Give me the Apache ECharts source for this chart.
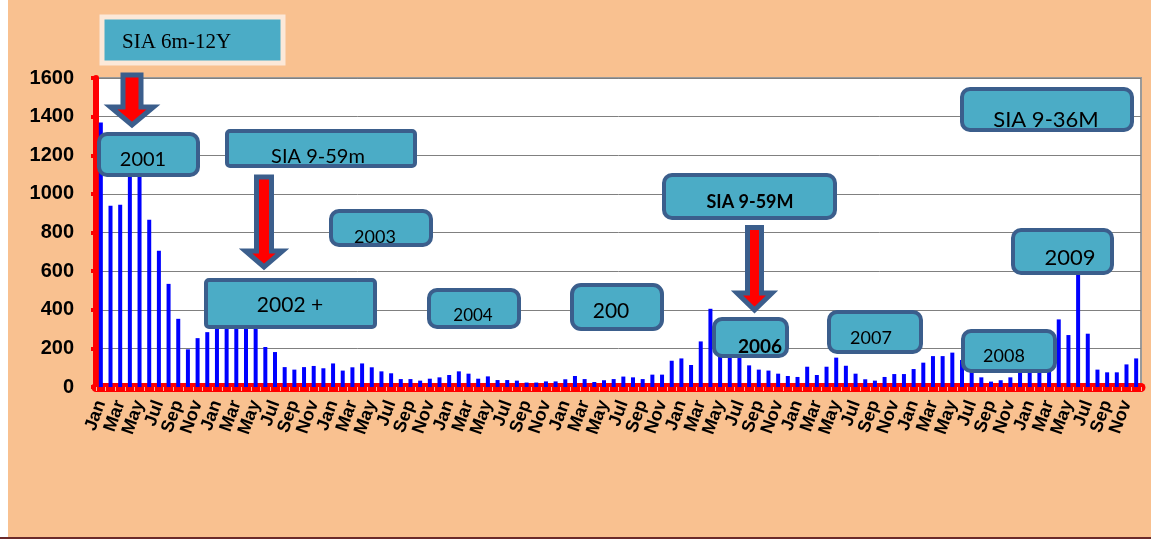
<!DOCTYPE html>
<html>
<head>
<meta charset="utf-8">
<script src="https://cdn.jsdelivr.net/npm/echarts@6/dist/echarts.min.js"></script>
<style>
html,body{margin:0;padding:0;background:#ffffff;}
#chart{width:1151px;height:539px;}
</style>
</head>
<body>
<div id="chart"></div>
<script>
// ---- data (monthly counts, Jan 2001 – Dec 2009) ----
var months = ['Jan','Feb','Mar','Apr','May','Jun','Jul','Aug','Sep','Oct','Nov','Dec'];
var years = ['2001','2002','2003','2004','2005','2006','2007','2008','2009'];
var v2001 = [1370, 939, 944, 1180, 1160, 866, 706, 534, 353, 195, 253, 284];
var v2002 = [320, 340, 350, 330, 310, 207, 181, 103, 90, 103, 109, 97];
var v2003 = [122, 85, 102, 122, 102, 81, 71, 41, 41, 33, 43, 50];
var v2004 = [62, 81, 69, 43, 55, 36, 36, 33, 23, 23, 29, 29];
var v2005 = [40, 57, 41, 26, 35, 41, 54, 50, 41, 64, 64, 136];
var v2006 = [148, 114, 236, 405, 180, 160, 150, 112, 90, 85, 69, 57];
var v2007 = [52, 105, 62, 105, 152, 110, 69, 40, 33, 52, 67, 67];
var v2008 = [93, 126, 160, 160, 178, 140, 100, 50, 28, 35, 50, 85];
var v2009 = [100, 110, 95, 350, 269, 590, 276, 90, 76, 76, 117, 148];
var yTicks = [0, 200, 400, 600, 800, 1000, 1200, 1400, 1600];

var yearValues = [v2001, v2002, v2003, v2004, v2005, v2006, v2007, v2008, v2009];
var categories = [];
var values = [];
yearValues.forEach(function (arr, yi) {
  arr.forEach(function (v, mi) {
    categories.push(months[mi]);
    values.push(v);
  });
});

var BOX_FILL = '#4BACC6';
var BOX_STROKE = '#3B5E8C';
var LBL_FONT = 'Lato, "Liberation Sans", sans-serif';

function box(x, y, w, h, r, text, tx, ty, size, bold) {
  return [
    { type: 'rect', z: 100, shape: { x: x, y: y, width: w, height: h, r: r },
      style: { fill: BOX_FILL, stroke: BOX_STROKE, lineWidth: 4 } },
    { type: 'text', z: 101, x: tx, y: ty,
      style: { text: text, fill: '#000', font: (bold ? 'bold ' : '') + size + 'px ' + LBL_FONT,
               textAlign: 'center', textVerticalAlign: 'middle' } }
  ];
}
function arrow(cx, top, headStart, tip, shaftHalf, headHalf) {
  return { type: 'polygon', z: 100,
    shape: { points: [
      [cx - shaftHalf, top], [cx + shaftHalf, top], [cx + shaftHalf, headStart],
      [cx + headHalf, headStart], [cx, tip], [cx - headHalf, headStart], [cx - shaftHalf, headStart]
    ] },
    style: { fill: '#FF0000', stroke: BOX_STROKE, lineWidth: 5, lineJoin: 'miter' } };
}

var graphics = [
  { type: 'rect', z: -10, shape: { x: 8, y: 0, width: 1143, height: 537 }, style: { fill: '#F9C190' } },
  { type: 'rect', z: -9, shape: { x: 0, y: 537, width: 1151, height: 2 }, style: { fill: '#6B2A2A' } },
  // SIA 6m-12Y
  { type: 'rect', z: 100, shape: { x: 102, y: 17, width: 181, height: 46 },
    style: { fill: BOX_FILL, stroke: '#FCE8D8', lineWidth: 5 } },
  { type: 'text', z: 101, x: 122, y: 42,
    style: { text: 'SIA 6m-12Y', fill: '#000', font: '21px "Liberation Serif", serif',
             textAlign: 'left', textVerticalAlign: 'middle' } },
  arrow(132, 75, 107, 125, 9, 21.5),
  arrow(264, 177, 251, 267, 7.5, 18.5),
  arrow(754.5, 227.5, 293, 310, 7, 17.5)
];
graphics = graphics
  .concat(box(99, 134, 99, 41, 8, '2001', 143, 160, 20, false))
  .concat(box(227, 131, 188, 35, 3, 'SIA 9-59m', 318, 157, 20, false))
  .concat(box(206, 280, 169, 47, 3, '2002 +', 290, 305, 21, false))
  .concat(box(331, 211, 100, 34, 8, '2003', 375, 237, 18, false))
  .concat(box(429, 290, 90, 37, 8, '2004', 473, 316, 17, false))
  .concat(box(572, 285, 90, 44, 9, '200', 611, 311, 21, false))
  .concat(box(664, 175, 171, 43, 8, 'SIA 9-59M', 750, 202, 18, true))
  .concat(box(714, 319, 73, 37, 8, '2006', 760, 347, 19, true))
  .concat(box(829, 312, 92, 40, 8, '2007', 871, 338, 18, false))
  .concat(box(963, 331, 92, 40, 8, '2008', 1004, 356, 18, false))
  .concat(box(1013, 230, 99, 43, 8, '2009', 1070, 258, 22, false))
  .concat(box(962, 89, 170, 41, 8, 'SIA 9-36M', 1046, 120, 22, false));

var chart = echarts.init(document.getElementById('chart'), null, { renderer: 'canvas' });
chart.setOption({
  animation: false,
  backgroundColor: 'transparent',
  graphic: graphics,
  grid: { left: 96, right: 10, top: 78, bottom: 152, show: true,
          backgroundColor: '#ffffff', borderColor: '#9a9a9a', borderWidth: 2 },
  xAxis: {
    type: 'category',
    data: categories,
    boundaryGap: true,
    axisLine: { show: true, onZero: false, lineStyle: { color: '#FF0000', width: 9 } },
    axisTick: { show: true, interval: 0, length: 4, alignWithLabel: false,
                lineStyle: { color: '#F7B8A0', width: 1 } },
    axisLabel: {
      interval: function (index) { return index % 2 === 0; },
      rotate: 70, margin: 14, hideOverlap: false,
      fontFamily: '"Liberation Sans", Arial, sans-serif', fontWeight: 'bold', fontSize: 18,
      color: '#000'
    },
    splitLine: { show: false }
  },
  yAxis: {
    type: 'value',
    min: 0, max: 1600, interval: 200,
    axisLine: { show: true, lineStyle: { color: '#FF0000', width: 6 } },
    axisTick: { show: true, length: 5, lineStyle: { color: '#FF0000', width: 4 } },
    axisLabel: {
      margin: 22,
      fontFamily: '"Liberation Sans", Arial, sans-serif', fontWeight: 'bold', fontSize: 20,
      color: '#000',
      formatter: function (v) { return yTicks.indexOf(v) >= 0 ? String(v) : ''; }
    },
    splitLine: { show: true, lineStyle: { color: '#808080', width: 1 } }
  },
  series: [{
    type: 'bar',
    data: values,
    barWidth: 4,
    itemStyle: { color: '#0000FF' },
    z: 2
  }]
});
</script>
</body>
</html>
